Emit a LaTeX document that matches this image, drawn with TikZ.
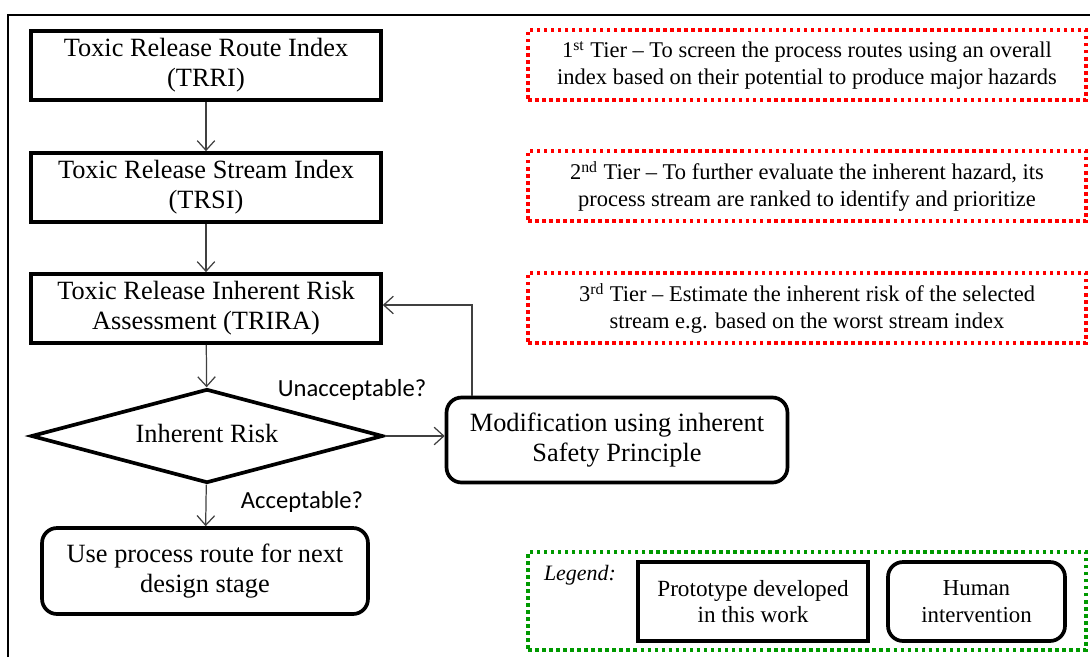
\documentclass[tikz,border=0pt]{standalone}
\usepackage{fontspec}
\setmainfont{Liberation Serif}
\newfontfamily\calibri{Carlito}
\usetikzlibrary{shapes.geometric,arrows.meta}

\tikzset{
  proto/.style={draw, line width=2.1pt, inner sep=0pt, align=center,
    font=\fontsize{15}{17}\selectfont},
  human/.style={proto, rounded corners=0.3cm},
  tier/.style={draw=red, line width=2pt, dash pattern=on 2pt off 2pt,
    minimum width=11.16cm, minimum height=1.4cm, inner sep=0pt, align=center,
    font=\fontsize{12.8}{15}\selectfont},
  flow/.style={-{Straight Barb[length=5.5pt,width=10pt]}, line width=0.7pt, draw=black!75},
  answer/.style={font=\calibri\fontsize{14}{16}\selectfont}
}

\begin{document}
\begin{tikzpicture}[x=0.02cm, y=-0.02cm]
% page size and outer frame
\useasboundingbox (0,0) rectangle (1090,657);
\draw[line width=0.8pt] (8,657) -- (8,15) -- (1090,15);
% main flow boxes
\node[proto, minimum width=7cm, minimum height=1.38cm] (trri) at (206,65.5) {Toxic Release Route Index\\(TRRI)};
\node[proto, minimum width=7cm, minimum height=1.38cm] (trsi) at (206,187.5) {Toxic Release Stream Index\\(TRSI)};
\node[proto, minimum width=7cm, minimum height=1.38cm] (trira) at (206,308.5) {Toxic Release Inherent Risk\\Assessment (TRIRA)};
% decision
\node[draw, diamond, line width=2.1pt, aspect=3.75, inner sep=0pt, minimum width=7.04cm, minimum height=1.88cm,
  font=\fontsize{15}{17}\selectfont] (risk) at (207,436) {\raisebox{3pt}{Inherent Risk}};
% outcomes
\node[human, minimum width=6.52cm, minimum height=1.72cm] (use) at (205,571) {Use process route for next\\design stage};
\node[human, minimum width=6.82cm, minimum height=1.7cm] (mod) at (617,440) {Modification using inherent\\Safety Principle};
% arrows
\draw[flow] (trri) -- (trsi);
\draw[flow] (trsi) -- (trira);
\draw[flow] (trira) -- (risk);
\draw[flow] (risk) -- (use);
\draw[flow] (risk.east) -- (mod.west |- risk.east);
% loop back to the risk assessment
\coordinate (back) at (472,305);
\draw[flow] (mod.north -| back) -- (back) -- (trira.east |- back);
% answers
\node[answer] (no) at (352,390) {Unacceptable?};
\node[answer] (yes) at (302,502) {Acceptable?};
% tiers
\node[tier] (tier1) at (807,65) {1\textsuperscript{st} Tier -- To screen the process routes using an overall\\index based on their potential to produce major hazards};
\node[tier] (tier2) at (807,186) {2\textsuperscript{nd} Tier -- To further evaluate the inherent hazard, its\\process stream are ranked to identify and prioritize};
\node[tier] (tier3) at (807,308) {3\textsuperscript{rd} Tier -- Estimate the inherent risk of the selected\\stream e.g. based on the worst stream index};
% legend
\node[tier, draw=green!60!black, minimum width=11.16cm, minimum height=1.96cm] (legend) at (807,601) {};
\node[font=\itshape\fontsize{12.5}{15}\selectfont] (legendtxt) at (580,575) {Legend:};
\node[proto, font=\fontsize{13.2}{15}\selectfont, minimum width=4.6cm, minimum height=1.58cm] (keyproto) at (753,601.5) {Prototype developed\\in this work};
\node[human, font=\fontsize{13}{15}\selectfont, minimum width=3.54cm, minimum height=1.58cm] (keyhuman) at (976.5,601.5) {Human\\intervention};
\end{tikzpicture}
\end{document}
